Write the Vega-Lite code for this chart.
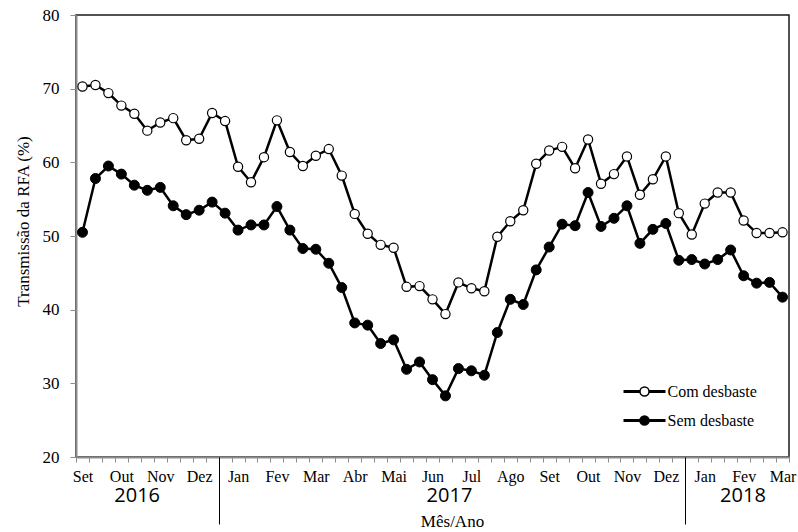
{
  "$schema": "https://vega.github.io/schema/vega-lite/v6.json",
  "width": 713,
  "height": 442,
  "autosize": {"type": "none"},
  "padding": {"left": 76, "top": 15, "right": 9, "bottom": 75},
  "background": "white",
  "config": {
    "view": {"stroke": "#1a1a1a", "strokeWidth": 1.5},
    "axis": {"grid": false, "labelColor": "black", "titleColor": "black", "titleFontWeight": "normal"}
  },
  "data": {
    "values": [
      {"i": 1, "Com desbaste": 70.3, "Sem desbaste": 50.5},
      {"i": 2, "Com desbaste": 70.5, "Sem desbaste": 57.8},
      {"i": 3, "Com desbaste": 69.4, "Sem desbaste": 59.5},
      {"i": 4, "Com desbaste": 67.7, "Sem desbaste": 58.4},
      {"i": 5, "Com desbaste": 66.6, "Sem desbaste": 56.9},
      {"i": 6, "Com desbaste": 64.3, "Sem desbaste": 56.2},
      {"i": 7, "Com desbaste": 65.4, "Sem desbaste": 56.6},
      {"i": 8, "Com desbaste": 66.0, "Sem desbaste": 54.1},
      {"i": 9, "Com desbaste": 63.0, "Sem desbaste": 52.9},
      {"i": 10, "Com desbaste": 63.2, "Sem desbaste": 53.5},
      {"i": 11, "Com desbaste": 66.7, "Sem desbaste": 54.6},
      {"i": 12, "Com desbaste": 65.6, "Sem desbaste": 53.1},
      {"i": 13, "Com desbaste": 59.4, "Sem desbaste": 50.8},
      {"i": 14, "Com desbaste": 57.3, "Sem desbaste": 51.5},
      {"i": 15, "Com desbaste": 60.7, "Sem desbaste": 51.5},
      {"i": 16, "Com desbaste": 65.7, "Sem desbaste": 54.0},
      {"i": 17, "Com desbaste": 61.4, "Sem desbaste": 50.8},
      {"i": 18, "Com desbaste": 59.5, "Sem desbaste": 48.3},
      {"i": 19, "Com desbaste": 60.9, "Sem desbaste": 48.2},
      {"i": 20, "Com desbaste": 61.8, "Sem desbaste": 46.3},
      {"i": 21, "Com desbaste": 58.2, "Sem desbaste": 43.0},
      {"i": 22, "Com desbaste": 53.0, "Sem desbaste": 38.2},
      {"i": 23, "Com desbaste": 50.3, "Sem desbaste": 37.9},
      {"i": 24, "Com desbaste": 48.8, "Sem desbaste": 35.4},
      {"i": 25, "Com desbaste": 48.4, "Sem desbaste": 35.9},
      {"i": 26, "Com desbaste": 43.1, "Sem desbaste": 31.9},
      {"i": 27, "Com desbaste": 43.2, "Sem desbaste": 32.9},
      {"i": 28, "Com desbaste": 41.4, "Sem desbaste": 30.5},
      {"i": 29, "Com desbaste": 39.4, "Sem desbaste": 28.3},
      {"i": 30, "Com desbaste": 43.7, "Sem desbaste": 32.0},
      {"i": 31, "Com desbaste": 42.9, "Sem desbaste": 31.7},
      {"i": 32, "Com desbaste": 42.5, "Sem desbaste": 31.1},
      {"i": 33, "Com desbaste": 49.9, "Sem desbaste": 36.9},
      {"i": 34, "Com desbaste": 52.0, "Sem desbaste": 41.4},
      {"i": 35, "Com desbaste": 53.5, "Sem desbaste": 40.7},
      {"i": 36, "Com desbaste": 59.8, "Sem desbaste": 45.4},
      {"i": 37, "Com desbaste": 61.6, "Sem desbaste": 48.5},
      {"i": 38, "Com desbaste": 62.1, "Sem desbaste": 51.6},
      {"i": 39, "Com desbaste": 59.2, "Sem desbaste": 51.4},
      {"i": 40, "Com desbaste": 63.1, "Sem desbaste": 55.9},
      {"i": 41, "Com desbaste": 57.1, "Sem desbaste": 51.3},
      {"i": 42, "Com desbaste": 58.4, "Sem desbaste": 52.4},
      {"i": 43, "Com desbaste": 60.8, "Sem desbaste": 54.1},
      {"i": 44, "Com desbaste": 55.6, "Sem desbaste": 49.0},
      {"i": 45, "Com desbaste": 57.7, "Sem desbaste": 50.9},
      {"i": 46, "Com desbaste": 60.8, "Sem desbaste": 51.7},
      {"i": 47, "Com desbaste": 53.1, "Sem desbaste": 46.7},
      {"i": 48, "Com desbaste": 50.2, "Sem desbaste": 46.8},
      {"i": 49, "Com desbaste": 54.4, "Sem desbaste": 46.2},
      {"i": 50, "Com desbaste": 55.9, "Sem desbaste": 46.8},
      {"i": 51, "Com desbaste": 55.9, "Sem desbaste": 48.1},
      {"i": 52, "Com desbaste": 52.1, "Sem desbaste": 44.6},
      {"i": 53, "Com desbaste": 50.4, "Sem desbaste": 43.6},
      {"i": 54, "Com desbaste": 50.4, "Sem desbaste": 43.7},
      {"i": 55, "Com desbaste": 50.5, "Sem desbaste": 41.7}
    ]
  },
  "transform": [{"fold": ["Com desbaste", "Sem desbaste"], "as": ["serie", "v"]}],
  "encoding": {
    "y": {
      "field": "v",
      "type": "quantitative",
      "scale": {"domain": [20, 80], "nice": false, "zero": false},
      "axis": {
        "values": [20, 30, 40, 50, 60, 70, 80],
        "tickSize": 6,
        "tickColor": "#8c8c8c",
        "domainColor": "#8c8c8c",
        "domainWidth": 2,
        "labelFont": "Liberation Serif",
        "labelFontSize": 17,
        "labelColor": "black",
        "labelPadding": 11,
        "title": "Transmissão da RFA (%)",
        "titleFont": "Liberation Serif",
        "titleFontSize": 17,
        "titleColor": "black",
        "titleFontWeight": "normal",
        "titlePadding": 10,
        "titleY": 206
      }
    }
  },
  "layer": [
    {
      "transform": [{"filter": "datum.serie == 'Com desbaste'"}],
      "mark": {"type": "line", "color": "black", "strokeWidth": 2.5},
      "encoding": {
        "x": {
          "field": "i", "type": "quantitative",
          "scale": {"domain": [0.5, 55.5], "nice": false, "zero": false},
          "axis": {
            "orient": "bottom",
            "values": [0.5, 1.5, 2.5, 3.5, 4.5, 5.5, 6.5, 7.5, 8.5, 9.5, 10.5, 11.5, 12.5, 13.5, 14.5, 15.5, 16.5, 17.5, 18.5, 19.5, 20.5, 21.5, 22.5, 23.5, 24.5, 25.5, 26.5, 27.5, 28.5, 29.5, 30.5, 31.5, 32.5, 33.5, 34.5, 35.5, 36.5, 37.5, 38.5, 39.5, 40.5, 41.5, 42.5, 43.5, 44.5, 45.5, 46.5, 47.5, 48.5, 49.5, 50.5, 51.5, 52.5, 53.5, 54.5, 55.5],
            "labels": false,
            "tickSize": 5,
            "tickColor": "#8c8c8c",
            "domainColor": "#8c8c8c",
            "domainWidth": 2,
            "title": "Mês/Ano",
            "titleFont": "Liberation Serif",
            "titleFontSize": 17,
            "titleColor": "black",
            "titleBaseline": "alphabetic",
            "titleAlign": "center",
            "titleX": 376,
            "titleY": 69
          }
        }
      }
    },
    {
      "transform": [{"filter": "datum.serie == 'Sem desbaste'"}],
      "mark": {"type": "line", "color": "black", "strokeWidth": 2.5},
      "encoding": {
        "x": {
          "field": "i", "type": "quantitative",
          "scale": {"domain": [0.5, 55.5], "nice": false, "zero": false},
          "axis": {
            "orient": "bottom",
            "values": [11.5, 47.5],
            "labels": false,
            "domain": false,
            "tickSize": 67,
            "tickColor": "black",
            "tickWidth": 1,
            "title": null
          }
        }
      }
    },
    {
      "transform": [{"filter": "datum.serie == 'Com desbaste'"}],
      "mark": {"type": "point", "filled": true, "stroke": "black", "strokeWidth": 1.2, "size": 85, "opacity": 1},
      "encoding": {
        "x": {
          "field": "i", "type": "quantitative",
          "scale": {"domain": [0.5, 55.5], "nice": false, "zero": false},
          "axis": {
            "orient": "bottom",
            "values": [1, 4, 7, 10, 13, 16, 19, 22, 25, 28, 31, 34, 37, 40, 43, 46, 49, 52, 55],
            "labelExpr": "['Set','Out','Nov','Dez','Jan','Fev','Mar','Abr','Mai','Jun','Jul','Ago','Set','Out','Nov','Dez','Jan','Fev','Mar'][round((datum.value-1)/3)]",
            "ticks": false,
            "tickSize": 0,
            "domain": false,
            "labelFont": "Liberation Serif",
            "labelFontSize": 16,
            "labelColor": "black",
            "labelPadding": 11,
            "labelFlush": false,
            "labelOverlap": false,
            "labelBound": false,
            "title": null
          }
        },
        "fill": {
          "field": "serie", "type": "nominal",
          "scale": {"domain": ["Com desbaste", "Sem desbaste"], "range": ["white", "black"]},
          "legend": {
            "title": null,
            "orient": "none",
            "legendX": 557,
            "legendY": 365,
            "padding": 0,
            "symbolType": "M-2,-0.06H-0.43M-2,0.06H-0.43M0.43,-0.06H2M0.43,0.06H2M0.43,0A0.43,0.43,0,1,1,-0.43,0A0.43,0.43,0,1,1,0.43,0Z",
            "symbolSize": 441,
            "symbolStrokeColor": "black",
            "symbolStrokeWidth": 1.5,
            "labelFont": "Liberation Serif",
            "labelFontSize": 16,
            "labelColor": "black",
            "labelOffset": 11.5,
            "rowPadding": 9
          }
        }
      }
    },
    {
      "transform": [{"filter": "datum.serie == 'Sem desbaste'"}],
      "mark": {"type": "point", "filled": true, "stroke": "black", "strokeWidth": 1, "size": 100, "opacity": 1},
      "encoding": {
        "x": {
          "field": "i", "type": "quantitative",
          "scale": {"domain": [0.5, 55.5], "nice": false, "zero": false},
          "axis": {
            "orient": "bottom",
            "values": [5.18, 29.27, 51.91],
            "labelExpr": "datum.value < 10 ? '2016' : (datum.value < 40 ? '2017' : '2018')",
            "ticks": false,
            "tickSize": 0,
            "domain": false,
            "labelFont": "Open Sans",
            "labelFontSize": 20,
            "labelColor": "black",
            "labelPadding": 28,
            "labelFlush": false,
            "labelOverlap": false,
            "labelBound": false,
            "title": null
          }
        },
        "fill": {
          "field": "serie", "type": "nominal",
          "scale": {"domain": ["Com desbaste", "Sem desbaste"], "range": ["white", "black"]},
          "legend": {
            "title": null,
            "orient": "none",
            "legendX": 557,
            "legendY": 365,
            "padding": 0,
            "symbolType": "M-2,-0.06H-0.43M-2,0.06H-0.43M0.43,-0.06H2M0.43,0.06H2M0.43,0A0.43,0.43,0,1,1,-0.43,0A0.43,0.43,0,1,1,0.43,0Z",
            "symbolSize": 441,
            "symbolStrokeColor": "black",
            "symbolStrokeWidth": 1.5,
            "labelFont": "Liberation Serif",
            "labelFontSize": 16,
            "labelColor": "black",
            "labelOffset": 11.5,
            "rowPadding": 9
          }
        }
      }
    }
  ],
  "resolve": {"axis": {"x": "independent"}}
}
